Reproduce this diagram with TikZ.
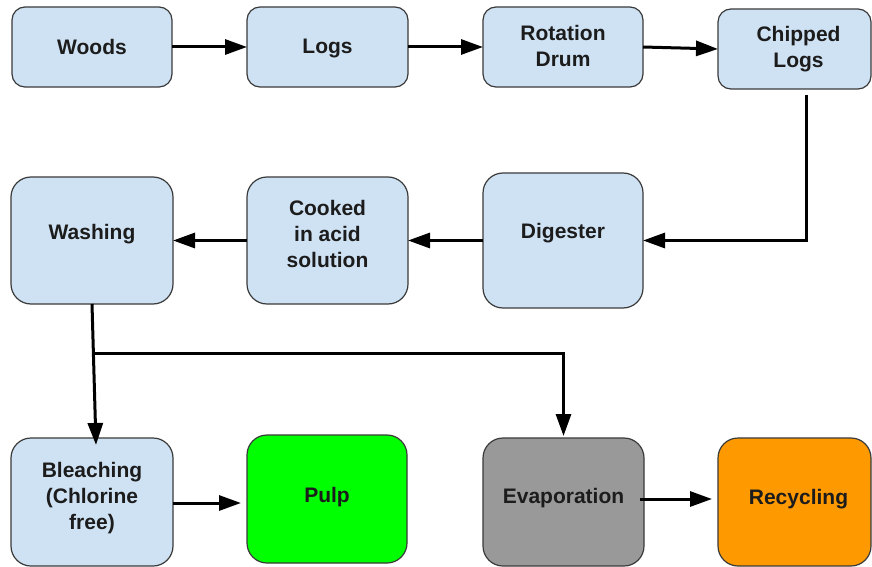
\documentclass[tikz,border=0pt]{standalone}
\usepackage{fontspec}
\setmainfont{Liberation Sans}
\usetikzlibrary{arrows.meta}

\definecolor{boxblue}{HTML}{CFE2F3}
\definecolor{boxgreen}{HTML}{00FF00}
\definecolor{boxgray}{HTML}{999999}
\definecolor{boxorange}{HTML}{FF9900}
\definecolor{edge}{HTML}{3A3A3A}
\definecolor{ink}{HTML}{1C1C1C}

\tikzset{
  stage/.style={draw=edge, line width=1.2pt, fill=boxblue, rectangle,
    inner sep=0pt, outer sep=0pt},
  low/.style={stage, rounded corners=13pt, minimum height=80pt},
  tall/.style={stage, rounded corners=20pt},
  caption/.style={text=ink, align=center, inner sep=0pt,
    font=\fontsize{21}{26}\selectfont\bfseries},
  flow/.style={line width=3pt, draw=black,
    -{Triangle[length=22pt,width=15pt]}},
  trunk/.style={line width=3pt, draw=black}
}

\begin{document}
\begin{tikzpicture}[x=1pt, y=-1pt]
\useasboundingbox (0,0) rectangle (872,567);
\fill[white] (0,0) rectangle (872,567);

% top row
\node[low, minimum width=160pt] (woods)   at (92,47)    {};
\node[low, minimum width=161pt] (logs)    at (327.5,47) {};
\node[low, minimum width=160pt] (drum)    at (563,47)   {};
\node[low, minimum width=153pt] (chipped) at (794.5,49) {};

% middle row
\node[tall, minimum width=162pt, minimum height=127pt] (washing)  at (92,240.5)  {};
\node[tall, minimum width=161pt, minimum height=127pt] (cooked)   at (327.5,240.5) {};
\node[tall, minimum width=160pt, minimum height=135pt] (digester) at (563,240.5) {};

% bottom row
\node[tall, minimum width=162pt, minimum height=128pt] (bleach) at (92,502) {};
\node[tall, fill=boxgreen, minimum width=160pt, minimum height=128pt] (pulp) at (327,499) {};
\node[tall, fill=boxgray, minimum width=161pt, minimum height=128pt] (evap) at (563.5,502) {};
\node[tall, fill=boxorange, minimum width=153pt, minimum height=128pt] (recyc) at (794.5,502) {};

% labels
\node[caption] (woods-t)   at (woods.center)   {Woods};
\node[caption] (logs-t)    at ([yshift=-2pt]logs.center) {Logs};
\node[caption] (drum-t)    at ([yshift=1pt]drum.center) {Rotation\\Drum};
\node[caption] (chipped-t) at ([xshift=4pt]chipped.center) {Chipped\\Logs};
\node[caption] (washing-t) at ([yshift=6pt]washing.center) {Washing};
\node[caption] (cooked-t)  at ([yshift=7pt]cooked.center) {Cooked\\in acid\\solution};
\node[caption] (digester-t) at ([yshift=7pt]digester.center) {Digester};
\node[caption] (bleach-t)  at ([yshift=4pt]bleach.center) {Bleaching\\(Chlorine\\free)};
\node[caption] (pulp-t)    at ([yshift=2pt]pulp.center) {Pulp};
\node[caption] (evap-t)    at ([yshift=4pt]evap.center) {Evaporation};
\node[caption] (recyc-t)   at ([xshift=4pt,yshift=3pt]recyc.center) {Recycling};

% top row flow
\draw[flow] (woods.east) -- (logs.west);
\draw[flow] (logs.east) -- (drum.west);
\draw[flow] (drum.east) -- (chipped.west);

% down the right side and back along the middle row
\coordinate (chip-out) at ([xshift=11.5pt,yshift=-6pt]chipped.south);
\draw[flow] (chip-out) |- (digester.east);
\draw[flow] (digester.west) -- (cooked.east);
\draw[flow] (cooked.west) -- (washing.east);

% washing splits to bleaching and evaporation
\coordinate (wash-out) at (washing.south);
\coordinate (bleach-in) at ([xshift=4pt,yshift=-7pt]bleach.north);
\coordinate (split) at (93.5,353);
\draw[flow] (wash-out) -- (bleach-in);
\draw[flow] (split) -| ([yshift=2pt]evap.north);

% bottom row flow
\draw[flow, shorten >=6pt] ([yshift=-1pt]bleach.east) -- ([yshift=-1pt]bleach.east -| pulp.west);
\draw[flow, shorten >=6pt, shorten <=-4pt] ([yshift=3pt]evap.east) -- ([yshift=3pt]evap.east -| recyc.west);
\end{tikzpicture}
\end{document}
